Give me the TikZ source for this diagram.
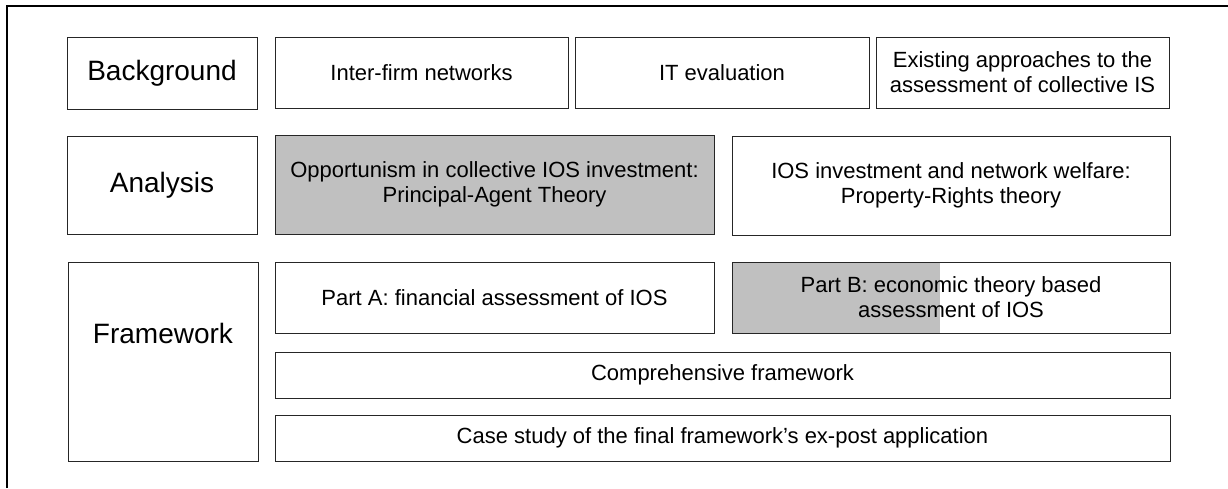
\documentclass[tikz,border=0pt]{standalone}
\usepackage{fontspec}
\setmainfont{Liberation Sans}
\definecolor{boxgray}{HTML}{C0C0C0}
\tikzset{
  box/.style={draw=black!85, line width=1pt, inner sep=0pt, align=center,
    font=\fontsize{22}{25}\selectfont, text=black},
  rowlabel/.style={font=\fontsize{28}{32}\selectfont, text=black, inner sep=0pt},
  frameline/.style={draw=black, line width=2pt}
}
\begin{document}
\begin{tikzpicture}[x=1pt,y=-1pt]
\useasboundingbox (0,0) rectangle (1228,488);
% outer frame (top and left edges)
\coordinate (fbl) at (7,488);
\coordinate (ftl) at (7,6);
\coordinate (ftr) at (1228,6);
\draw[frameline] (fbl) -- (ftl) -- (ftr);
% Background row
\node[box, rowlabel, minimum width=190pt, minimum height=72pt] (bg) at (162,73) {Background};
\node[box, minimum width=293pt, minimum height=71pt] (inter) at (421.5,72.5) {Inter-firm networks};
\node[box, minimum width=294pt, minimum height=71pt] (iteval) at (722,72.5) {IT evaluation};
\node[box, minimum width=293pt, minimum height=71pt] (exist) at (1022.5,72.5) {Existing approaches to the\\assessment of collective IS};
% Analysis row
\node[box, rowlabel, minimum width=190pt, minimum height=98pt] (ana) at (162,185) {Analysis};
\node[box, fill=boxgray, minimum width=439pt, minimum height=99pt] (opp) at (494.5,184.5) {Opportunism in collective IOS investment:\\Principal-Agent Theory};
\node[box, minimum width=438pt, minimum height=99pt] (prop) at (951,185.5) {IOS investment and network welfare:\\Property-Rights theory};
% Framework row
\node[box, minimum width=190pt, minimum height=199pt] (fw) at (163,361.5) {};
\node[rowlabel] (fwlabel) at (163,333) {Framework};
\node[box, minimum width=439pt, minimum height=71pt] (parta) at (494.5,297.5) {Part A: financial assessment of IOS};
\node[box, minimum width=438pt, minimum height=71pt,
  path picture={\fill[boxgray] (path picture bounding box.south west) rectangle ([xshift=208pt]path picture bounding box.north west);}]
  (partb) at (951,297.5) {Part B: economic theory based\\assessment of IOS};
\node[box, minimum width=895pt, minimum height=46pt] (comp) at (722.5,375) {Comprehensive framework};
\node[box, minimum width=895pt, minimum height=46pt] (case) at (722.5,438) {Case study of the final framework’s ex-post application};
\end{tikzpicture}
\end{document}
